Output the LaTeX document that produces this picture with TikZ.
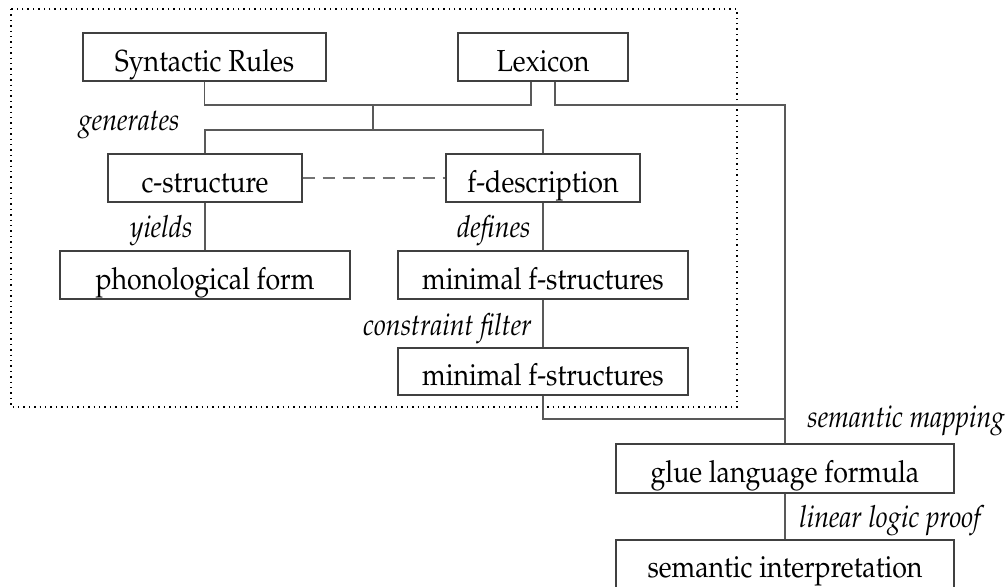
\documentclass[tikz,border=0pt]{standalone}
\usepackage[T1]{fontenc}
\usepackage{mathpazo,graphicx}
\usetikzlibrary{calc}
\newcommand\narrow[1]{\scalebox{0.88}[1]{#1}}

\begin{document}
\begin{tikzpicture}[x=0.5pt,y=-0.5pt,
	box/.style={draw=black!75,line width=0.6pt,inner sep=0pt,minimum height=24pt,text height=14pt,text depth=0pt,font=\fontsize{15.2}{18}\selectfont},
	lbl/.style={font=\fontsize{15.2}{18}\selectfont\itshape,inner sep=0pt},
	link/.style={draw=black!65,line width=0.6pt}]
		\useasboundingbox (0,0) rectangle (1008,586);
		\draw[dotted,line width=0.7pt] (11,9) rectangle (737,407);
		\node[box,minimum width=121.5pt] (SR) at (204.5,57) {\narrow{Syntactic Rules}};
		\node[box,minimum width=85pt] (LX) at (543,57) {\narrow{Lexicon}};
		\node[box,minimum width=97pt] (CS) at (205,178) {\narrow{c-structure}};
		\node[box,minimum width=97pt] (FD) at (543,178) {\narrow{f-description}};
		\node[box,minimum width=145pt] (PF) at (205,275) {\narrow{phonological form}};
		\node[box,minimum width=145pt] (MF) at (543,275) {\narrow{minimal f-structures}};
		\node[box,minimum width=145pt,minimum height=23.5pt] (MFF) at (543,371.5) {\narrow{minimal f-structures}};
		\node[box,minimum width=169pt,minimum height=24.5pt] (GL) at (785,468.5) {\narrow{glue language formula}};
		\node[box,minimum width=169pt,minimum height=24pt,text height=13pt] (SI) at (785,564) {\narrow{semantic interpretation}};
		\path
		(373,105) coordinate (j1)
		(373,130) coordinate (j2)
		(785,105) coordinate (j3)
		(785,419) coordinate (j4);
		\draw[link] (SR.south) |- (j1) -| ([xshift=-6pt]LX.south);
		\draw[link] ([xshift=6pt]LX.south) |- (j3) -- (GL.north);
		\draw[link] (j1) -- (j2) (CS.north) |- (j2) -| (FD.north);
		\draw[link] (MFF.south) |- (j4);
		\foreach \a/\b in {CS/PF,FD/MF,MF/MFF,GL/SI} \draw[link] (\a) -- (\b);
		\draw[link,draw=black!55,dashed,dash pattern=on 6pt off 4pt] (CS.east) -- (FD.west);
		\node[lbl,anchor=base east] (gen) at (180,130) {\narrow{generates}};
		\node[lbl,anchor=base east] (yld) at (193,237) {\narrow{yields}};
		\node[lbl,anchor=base east] (def) at (531,237) {\narrow{defines}};
		\node[lbl,anchor=base east] (flt) at (532,335) {\narrow{constraint filter}};
		\node[lbl,anchor=base west] (map) at (807,427) {\narrow{semantic mapping}};
		\node[lbl,anchor=base west] (prf) at (799,527) {\narrow{linear logic proof}};
	\end{tikzpicture}
\end{document}
